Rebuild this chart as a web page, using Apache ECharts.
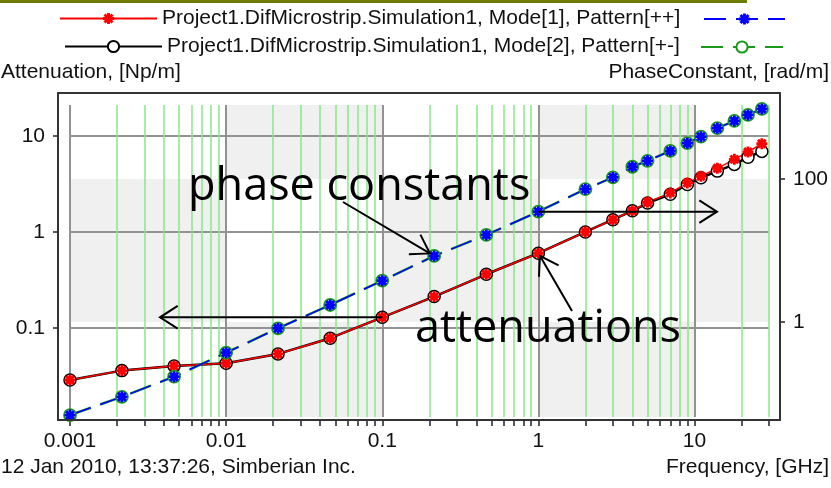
<!DOCTYPE html>
<html>
<head>
<meta charset="utf-8">
<script src="https://cdn.jsdelivr.net/npm/echarts@6/dist/echarts.min.js"></script>
<style>
  html, body { margin: 0; padding: 0; background: #fff; }
  #chart { width: 831px; height: 488px; }
</style>
</head>
<body>
<div id="chart"></div>
<script>
// ---- Sweep data ---------------------------------------------------------
// Frequency points, GHz
const freqGHz = [0.001, 0.00215, 0.00464, 0.01, 0.0215, 0.0464, 0.1, 0.215, 0.464,
                 1, 2, 3, 4, 5, 7, 9, 11, 14, 18, 22, 27];
// Attenuation, Np/m
const attMode1 = [0.0287, 0.0359, 0.0402, 0.0428, 0.0536, 0.0781, 0.129, 0.212, 0.362,
                  0.60, 1.0, 1.34, 1.66, 2.04, 2.55, 3.24, 3.8, 4.6, 5.7, 6.8, 8.3];
const attMode2 = [0.0287, 0.0359, 0.0402, 0.0428, 0.0536, 0.0781, 0.129, 0.212, 0.362,
                  0.60, 1.0, 1.34, 1.66, 2.0, 2.47, 3.12, 3.66, 4.3, 5.05, 6.0, 6.9];
// Phase constant, rad/m
const phaseMode1 = [0.050, 0.090, 0.172, 0.372, 0.817, 1.73, 3.78, 8.38, 16.5,
                    34.9, 72, 105, 148, 179, 246, 316, 390, 512, 647, 785, 953];
const phaseMode2 = [0.050, 0.090, 0.172, 0.372, 0.817, 1.73, 3.78, 8.38, 16.5,
                    34.9, 72, 105, 148, 179, 246, 316, 390, 512, 647, 785, 953];

// Series names
const nameMode1 = 'Project1.DifMicrostrip.Simulation1, Mode[1], Pattern[++]';
const nameMode2 = 'Project1.DifMicrostrip.Simulation1, Mode[2], Pattern[+-]';
const namePhase1 = 'PhaseConstant Mode[1]';
const namePhase2 = 'PhaseConstant Mode[2]';

// ---- Axis ticks -------------------------------------------------------
const xMajorTicks = [0.001, 0.01, 0.1, 1, 10];
const xMajorLabels = ['0.001', '0.01', '0.1', '1', '10'];
const xMinorTicks = [0.002, 0.003, 0.004, 0.005, 0.006, 0.007, 0.008, 0.009,
                     0.02, 0.03, 0.04, 0.05, 0.06, 0.07, 0.08, 0.09,
                     0.2, 0.3, 0.4, 0.5, 0.6, 0.7, 0.8, 0.9,
                     2, 3, 4, 5, 6, 7, 8, 9, 20, 30];
const yLeftTicks = [0.1, 1, 10];
const yLeftLabels = ['0.1', '1', '10'];
const yRightTicks = [1, 100];
const yRightLabels = ['1', '100'];

// Axis extents
const X_MIN = 0.001, X_MAX = 30;
const YL_MIN = 0.0118, YL_MAX = 21;
const YR_MIN = 0.047, YR_MAX = 1080;

// Background checkerboard: frequency decades x phase-axis bands
const shadeColEdges = [0.001, 0.01, 0.1, 1, 10, 30];
const shadeRowEdges = [YR_MAX, 100, 1, YR_MIN];

const FONT = "'Liberation Sans', Arial, sans-serif";
const TXT = '#111';

function pairs(xs, ys) { return xs.map((x, i) => [x, ys[i]]); }
function labelFor(ticks, labels) {
  return v => {
    const i = ticks.findIndex(t => Math.abs(Math.log10(t) - Math.log10(v)) < 1e-6);
    return i >= 0 ? labels[i] : '';
  };
}

const shadeCells = [];
for (let c = 0; c < shadeColEdges.length - 1; c++) {
  for (let r = 0; r < shadeRowEdges.length - 1; r++) {
    if ((c + r) % 2 === 1) {
      shadeCells.push([shadeColEdges[c], shadeColEdges[c + 1], shadeRowEdges[r + 1], shadeRowEdges[r]]);
    }
  }
}

// Asterisk marker (union of four bars)
const STAR = 'path://M-1.3,-5L1.3,-5L1.3,5L-1.3,5Z M-5,-1.3L5,-1.3L5,1.3L-5,1.3Z ' +
             'M-2.6,-4.5L4.5,2.6L2.6,4.5L-4.5,-2.6Z M2.6,-4.5L4.5,-2.6L-2.6,4.5L-4.5,2.6Z';

const DASH = [22, 10];

const legendBase = {
  orient: 'horizontal', padding: 0, selectedMode: false, itemHeight: 14,
  textStyle: { fontSize: 21, fontFamily: FONT, color: TXT }
};

const option = {
  animation: false,
  backgroundColor: '#fff',
  grid: { left: 70, top: 105, width: 699, height: 312, outerBoundsMode: 'none', show: false },
  legend: [
    Object.assign({}, legendBase, { data: [nameMode1], left: 59, top: 8, itemWidth: 97 }),
    Object.assign({}, legendBase, { data: [nameMode2], left: 64, top: 36, itemWidth: 97 }),
    Object.assign({}, legendBase, { data: [namePhase1], left: 703, top: 12, itemWidth: 81, formatter: () => '' }),
    Object.assign({}, legendBase, { data: [namePhase2], left: 700, top: 40, itemWidth: 82, formatter: () => '' })
  ],
  xAxis: [
    {
      type: 'log', logBase: 10, min: X_MIN, max: X_MAX, position: 'bottom', offset: 3, z: 1,
      axisLine: { show: false },
      axisTick: { show: true, customValues: xMajorTicks, length: 6, lineStyle: { color: '#222', width: 1.5 } },
      axisLabel: { customValues: xMajorTicks, formatter: labelFor(xMajorTicks, xMajorLabels),
                   margin: 11, fontSize: 21, fontFamily: FONT, color: TXT },
      splitLine: { show: true, customValues: xMajorTicks, lineStyle: { color: '#929292', width: 2 } },
      minorTick: { show: false }, minorSplitLine: { show: false }
    },
    {
      type: 'log', logBase: 10, min: X_MIN, max: X_MAX, position: 'bottom', offset: 3, z: 1,
      axisLine: { show: false },
      axisTick: { show: true, customValues: xMinorTicks, length: 6, lineStyle: { color: '#222', width: 1.5 } },
      axisLabel: { show: false },
      splitLine: { show: true, customValues: xMinorTicks, lineStyle: { color: '#86ea86', width: 1.5 } }
    }
  ],
  yAxis: [
    {
      type: 'log', logBase: 10, min: YL_MIN, max: YL_MAX, position: 'left', offset: 12, z: 1,
      axisLine: { show: false },
      axisTick: { show: true, customValues: yLeftTicks, length: 5, lineStyle: { color: '#222', width: 1.5 } },
      axisLabel: { customValues: yLeftTicks, formatter: labelFor(yLeftTicks, yLeftLabels),
                   margin: 13, fontSize: 21, fontFamily: FONT, color: TXT },
      splitLine: { show: true, customValues: yLeftTicks, lineStyle: { color: '#929292', width: 2 } }
    },
    {
      type: 'log', logBase: 10, min: YR_MIN, max: YR_MAX, position: 'right', offset: 11, z: 1,
      axisLine: { show: false },
      axisTick: { show: true, customValues: yRightTicks, length: 5, lineStyle: { color: '#222', width: 1.5 } },
      axisLabel: { customValues: yRightTicks, formatter: labelFor(yRightTicks, yRightLabels),
                   margin: 13, fontSize: 21, fontFamily: FONT, color: TXT },
      splitLine: { show: false }
    }
  ],
  series: [
    {
      type: 'custom', name: 'bands', z: -1, xAxisIndex: 0, yAxisIndex: 1, silent: true,
      encode: { x: [0, 1], y: [2, 3] },
      data: shadeCells,
      renderItem: (params, api) => {
        const p0 = api.coord([api.value(0), api.value(3)]);
        const p1 = api.coord([api.value(1), api.value(2)]);
        return { type: 'rect', shape: { x: p0[0], y: p0[1], width: p1[0] - p0[0], height: p1[1] - p0[1] },
                 style: { fill: '#f0f0f0' } };
      }
    },
    {
      type: 'line', name: nameMode2, xAxisIndex: 0, yAxisIndex: 0, data: pairs(freqGHz, attMode2),
      symbol: 'circle', symbolSize: 12,
      itemStyle: { color: '#fff', borderColor: '#000', borderWidth: 1.5 },
      lineStyle: { color: '#000', width: 2.5 }
    },
    {
      type: 'line', name: nameMode1, xAxisIndex: 0, yAxisIndex: 0, data: pairs(freqGHz, attMode1),
      symbol: STAR, symbolSize: 11,
      itemStyle: { color: '#ff0000' },
      lineStyle: { color: '#ff0000', width: 1.5 }
    },
    {
      type: 'line', name: namePhase2, xAxisIndex: 0, yAxisIndex: 1, data: pairs(freqGHz, phaseMode2),
      symbol: 'circle', symbolSize: 12,
      itemStyle: { color: '#fff', borderColor: '#1a9a1a', borderWidth: 1.8 },
      lineStyle: { color: '#1a9a1a', width: 2.5, type: DASH }
    },
    {
      type: 'line', name: namePhase1, xAxisIndex: 0, yAxisIndex: 1, data: pairs(freqGHz, phaseMode1),
      symbol: STAR, symbolSize: 11,
      itemStyle: { color: '#0000ff' },
      lineStyle: { color: '#0000ff', width: 1.5, type: DASH }
    }
  ]
};

const chart = echarts.init(document.getElementById('chart'), null, { renderer: 'canvas' });
chart.setOption(option);

// ---- Frame, captions and pointer arrows ----------------------------------
function toPx(yAxisIndex, f, v) {
  return chart.convertToPixel({ xAxisIndex: 0, yAxisIndex: yAxisIndex }, [f, v]);
}
function shorten(from, to, d) {
  const dx = to[0] - from[0], dy = to[1] - from[1];
  const len = Math.hypot(dx, dy);
  return [to[0] - dx / len * d, to[1] - dy / len * d];
}
function arrow(id, tail, tip) {
  const dx = tip[0] - tail[0], dy = tip[1] - tail[1];
  const ang = Math.atan2(dy, dx);
  const L = 21, a = 0.57;
  const h1 = [tip[0] - L * Math.cos(ang - a), tip[1] - L * Math.sin(ang - a)];
  const h2 = [tip[0] - L * Math.cos(ang + a), tip[1] - L * Math.sin(ang + a)];
  const st = { stroke: '#000', lineWidth: 2, fill: null };
  return [
    { type: 'polyline', id: id + '_shaft', z: 100, shape: { points: [tail, tip] }, style: st },
    { type: 'polyline', id: id + '_head', z: 100, shape: { points: [h1, tip, h2] }, style: st }
  ];
}

const iPhase = freqGHz.indexOf(0.215);
const iAtt = freqGHz.indexOf(0.1);
const iOne = freqGHz.indexOf(1);

const pPhase = toPx(1, freqGHz[iPhase], phaseMode1[iPhase]);
const pAtt = toPx(0, freqGHz[iAtt], attMode1[iAtt]);
const pPhaseOne = toPx(1, freqGHz[iOne], phaseMode1[iOne]);
const pAttOne = toPx(0, freqGHz[iOne], attMode1[iOne]);

const phaseTail = [343, 202];
const attTail = [572, 311];

const graphics = [
  { type: 'line', id: 'topRule', z: 50, shape: { x1: 0, y1: 1.5, x2: 747, y2: 1.5 },
    style: { stroke: '#6e7a00', lineWidth: 3 } },
  { type: 'rect', id: 'frame', z: 50, shape: { x: 58, y: 93, width: 722, height: 327 },
    style: { fill: null, stroke: '#333', lineWidth: 2 } },
  { type: 'text', id: 'tLeft', z: 50, x: 1, y: 72,
    style: { text: 'Attenuation, [Np/m]', font: '21px ' + FONT, fill: TXT, align: 'left', verticalAlign: 'middle' } },
  { type: 'text', id: 'tRight', z: 50, x: 829, y: 72,
    style: { text: 'PhaseConstant, [rad/m]', font: '21px ' + FONT, fill: TXT, align: 'right', verticalAlign: 'middle' } },
  { type: 'text', id: 'tStamp', z: 50, x: 1, y: 467,
    style: { text: '12 Jan 2010, 13:37:26, Simberian Inc.', font: '21px ' + FONT, fill: TXT, align: 'left', verticalAlign: 'middle' } },
  { type: 'text', id: 'tFreq', z: 50, x: 829, y: 467,
    style: { text: 'Frequency, [GHz]', font: '21px ' + FONT, fill: TXT, align: 'right', verticalAlign: 'middle' } },
  { type: 'text', id: 'annPhase', z: 100, x: 188, y: 187,
    style: { text: 'phase constants', font: "45px 'Open Sans', sans-serif", fill: '#000', align: 'left', verticalAlign: 'middle' } },
  { type: 'text', id: 'annAtt', z: 100, x: 415, y: 329,
    style: { text: 'attenuations', font: "45px 'Open Sans', sans-serif", fill: '#000', align: 'left', verticalAlign: 'middle' } }
]
  .concat(arrow('a1', phaseTail, shorten(phaseTail, pPhase, 5)))
  .concat(arrow('a2', pAtt, [160, pAtt[1]]))
  .concat(arrow('a3', pPhaseOne, [717, pPhaseOne[1]]))
  .concat(arrow('a4', attTail, shorten(attTail, pAttOne, 3)));

chart.setOption({ graphic: graphics });
</script>
</body>
</html>
